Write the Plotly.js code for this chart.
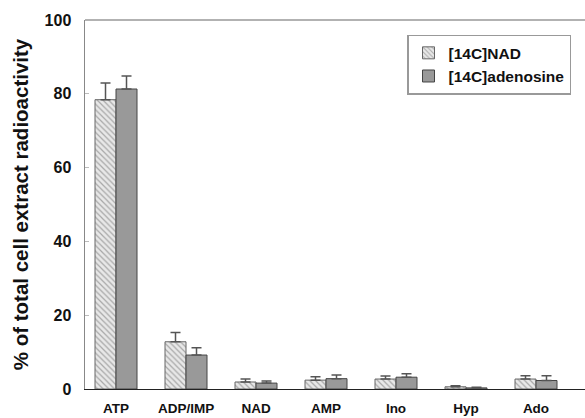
<!DOCTYPE html>
<html>
<head>
<meta charset="utf-8">
<script src="https://cdn.plot.ly/plotly-3.0.1.min.js"></script>
<style>html,body{margin:0;padding:0;background:#fff;}#chart{width:585px;height:418px;}</style>
</head>
<body>
<div id="chart"></div>
<script>
var categories = ["ATP", "ADP/IMP", "NAD", "AMP", "Ino", "Hyp", "Ado"];
var nadValues = [78.4, 12.8, 1.9, 2.4, 2.7, 0.6, 2.7];
var nadErrors = [4.5, 2.5, 0.8, 0.9, 0.8, 0.3, 0.9];
var adoValues = [81.3, 9.2, 1.6, 2.8, 3.2, 0.3, 2.3];
var adoErrors = [3.5, 2.0, 0.6, 1.0, 0.9, 0.2, 1.3];
var yTicks = [0, 20, 40, 60, 80, 100];

var font = "Liberation Sans, Arial, Helvetica, sans-serif";

var traces = [
  {
    type: "bar", name: "[14C]NAD", x: categories, y: nadValues,
    error_y: {type: "data", array: nadErrors, visible: true, color: "#555", thickness: 1.5, width: 5, symmetric: false, arrayminus: nadValues.map(function(){return 0;})},
    marker: {color: "#e2e2e2", line: {color: "#666", width: 1},
      pattern: {shape: "\\", fgcolor: "#a8a8a8", bgcolor: "#e8e8e8", size: 4, solidity: 0.3}}
  },
  {
    type: "bar", name: "[14C]adenosine", x: categories, y: adoValues,
    error_y: {type: "data", array: adoErrors, visible: true, color: "#555", thickness: 1.5, width: 5, symmetric: false, arrayminus: adoValues.map(function(){return 0;})},
    marker: {color: "#999999", line: {color: "#444", width: 1}}
  }
];

var layout = {
  width: 585, height: 418,
  margin: {l: 85, r: 0, t: 20, b: 29},
  paper_bgcolor: "#fff", plot_bgcolor: "#fff",
  barmode: "group", bargap: 0.4, bargroupgap: 0,
  showlegend: true,
  font: {family: font, color: "#111"},
  xaxis: {
    type: "category", range: [-0.443, 6.7],
    showline: true, linecolor: "#222", linewidth: 1.2,
    ticks: "", showgrid: false, zeroline: false,
    tickfont: {family: font, size: 13.5, color: "#111"},
    ticklabelstandoff: 7,
    tickvals: categories,
    ticktext: categories.map(function(c){return "<b>" + c + "</b>";})
  },
  yaxis: {
    range: [0, 100], tickvals: yTicks,
    ticktext: yTicks.map(function(t){return "<b>" + t + "</b>";}),
    showline: true, linecolor: "#888", linewidth: 1.5,
    ticks: "inside", ticklen: 4, tickcolor: "#bbb",
    showgrid: false, zeroline: false,
    tickfont: {family: font, size: 16, color: "#111"},
    ticklabelstandoff: 9,
    title: {text: "<b>% of total cell extract radioactivity</b>", font: {family: font, size: 20.5, color: "#111"}, standoff: 10}
  },
  legend: {
    x: 0.644, y: 0.96, xanchor: "left", yanchor: "top",
    bgcolor: "#fff", bordercolor: "#999", borderwidth: 1.5,
    font: {family: font, size: 15.5, color: "#111", weight: "bold"},
    tracegroupgap: 4, itemwidth: 30
  },
  shapes: [
    {type: "line", xref: "paper", yref: "paper", x0: 0, x1: 1, y0: 1, y1: 1, line: {color: "#999", width: 1.5}}
  ]
};

Plotly.newPlot("chart", traces, layout, {displayModeBar: false, staticPlot: true});
</script>
</body>
</html>
